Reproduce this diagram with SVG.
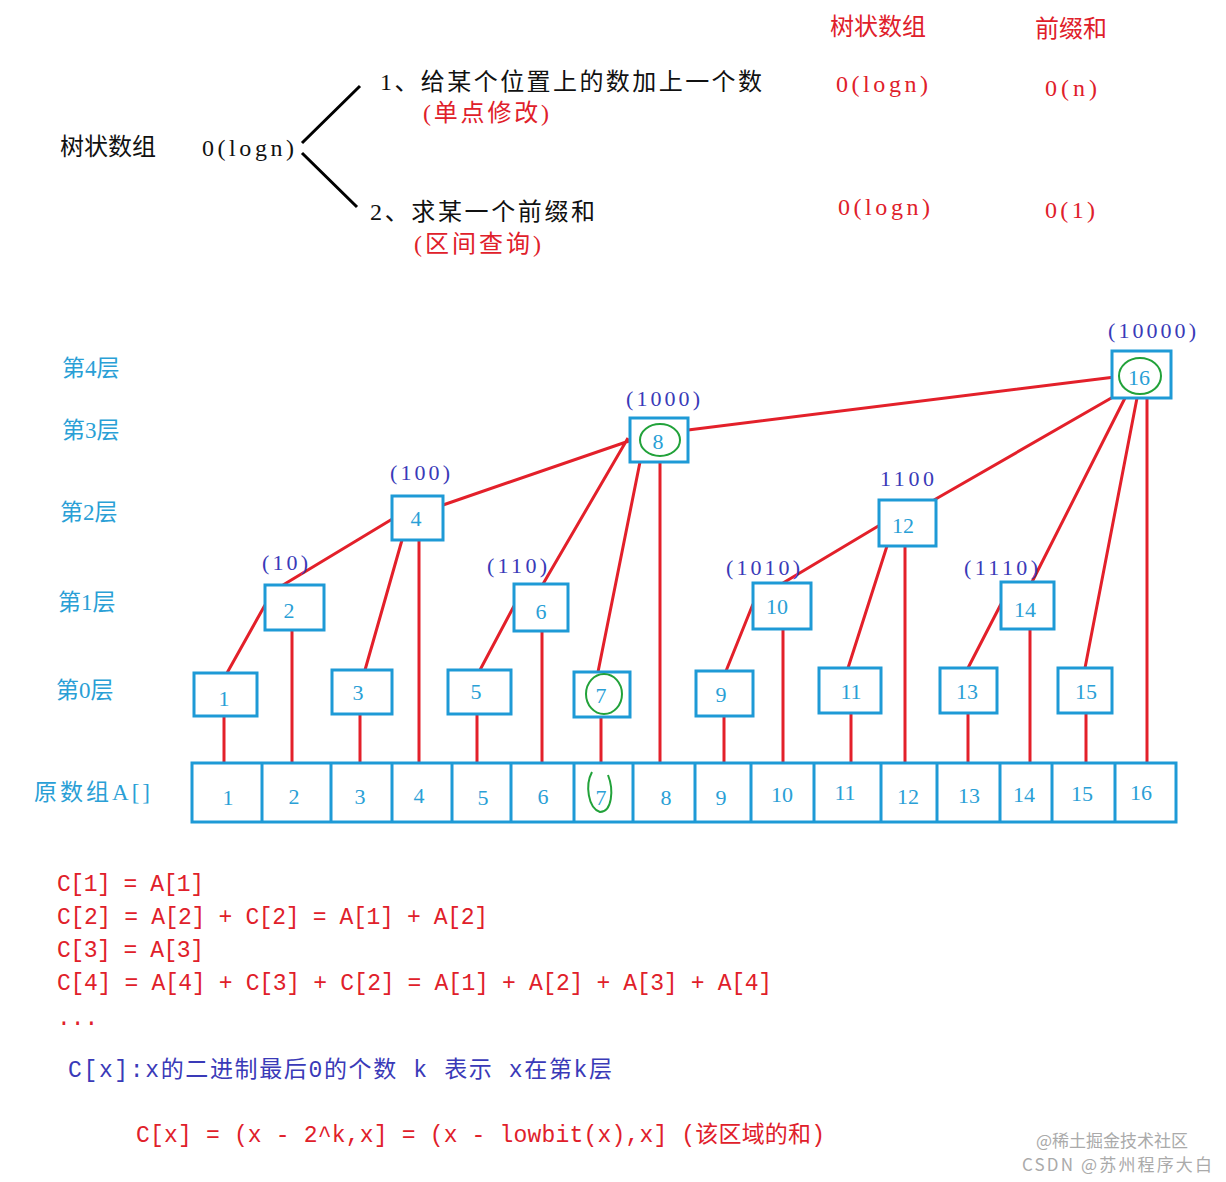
<svg xmlns="http://www.w3.org/2000/svg" width="1226" height="1182" viewBox="0 0 1226 1182">
<style>
text{font-family:"Liberation Serif","Noto Sans CJK SC",serif;}
.k{fill:#111;font-size:24px}
.r{fill:#e0202a;font-size:24px}
.b{fill:#3a3ab8;font-size:22px}
.t{fill:#2a9fd6;font-size:23px}
.n{fill:#2a9fd6;font-size:22px;text-anchor:middle}
.m{fill:#e0202a;font-size:23px;font-family:"Liberation Mono","Noto Sans CJK SC",monospace}
.box{fill:#fff;stroke:#1e9ad6;stroke-width:3}
.e{stroke:#e3202a;stroke-width:3;fill:none}
.g{fill:none;stroke:#22a23a;stroke-width:2}
</style>
<rect width="1226" height="1182" fill="#fff"/>
<g id="header">
<text class="r" x="830" y="35">树状数组</text>
<text class="r" x="1035" y="37">前缀和</text>
<text class="k" x="60" y="155">树状数组</text>
<text class="k" x="202" y="156" textLength="92">0(logn)</text>
<path d="M302 143 L360 86 M302 153 L357 207" stroke="#000" stroke-width="3" fill="none"/>
<text class="k" x="380" y="90" textLength="382">1、给某个位置上的数加上一个数</text>
<text class="r" x="423" y="121" textLength="126">(单点修改)</text>
<text class="k" x="370" y="220" textLength="225">2、求某一个前缀和</text>
<text class="r" x="414" y="252" textLength="127">(区间查询)</text>
<text class="r" x="836" y="92" textLength="92">0(logn)</text>
<text class="r" x="1045" y="96" textLength="52">0(n)</text>
<text class="r" x="838" y="215" textLength="92">0(logn)</text>
<text class="r" x="1045" y="218" textLength="50">0(1)</text>
</g>
<g id="layers">
<text class="t" x="62" y="376">第4层</text>
<text class="t" x="62" y="438">第3层</text>
<text class="t" x="60" y="520">第2层</text>
<text class="t" x="58" y="610">第1层</text>
<text class="t" x="56" y="698">第0层</text>
<text class="t" x="34" y="800" textLength="116">原数组A[]</text>
</g>
<g id="connectors">
<path class="e" d="M227 673 L265 605 M283 585 L394 518 M365 670 L402 540 M443 505 L632 440 M480 670 L514 606 M543 584 L628 438 M598 672 L640 462 M783 583 L880 525 M726 671 L753 604 M848 668 L887 546 M934 500 L1120 393 M968 668 L1001 604 M1032 582 L1125 398 M1085 668 L1137 398 M688 430 L1115 377"/>
<path class="e" d="M224 716V763 M292 630V763 M360 714V763 M419 540V763 M477 714V763 M542 631V763 M601 717V763 M660 462V763 M724 716V763 M783 629V763 M851 713V763 M905 546V763 M968 713V763 M1030 629V763 M1086 713V763 M1147 398V763"/>
</g>
<g id="array">
<rect class="box" x="192" y="763" width="984" height="59"/>
<path d="M262 763V822 M331 763V822 M392 763V822 M452 763V822 M511 763V822 M574 763V822 M633 763V822 M695 763V822 M751 763V822 M814 763V822 M881 763V822 M937 763V822 M1000 763V822 M1052 763V822 M1115 763V822" stroke="#1e9ad6" stroke-width="3"/>
<text class="n" x="228" y="805">1</text><text class="n" x="294" y="804">2</text><text class="n" x="360" y="804">3</text><text class="n" x="419" y="803">4</text><text class="n" x="483" y="805">5</text><text class="n" x="543" y="804">6</text><text class="n" x="601" y="805">7</text><text class="n" x="666" y="805">8</text><text class="n" x="721" y="805">9</text><text class="n" x="782" y="802">10</text><text class="n" x="845" y="800">11</text><text class="n" x="908" y="804">12</text><text class="n" x="969" y="803">13</text><text class="n" x="1024" y="802">14</text><text class="n" x="1082" y="801">15</text><text class="n" x="1141" y="800">16</text>
<path class="g" d="M592 772 C585 785 588 808 600 812 C612 812 614 790 608 775"/>
</g>
<g id="n1"><rect class="box" x="194" y="673" width="63" height="43"/><text class="n" x="224" y="706">1</text></g>
<g id="n2"><rect class="box" x="265" y="585" width="59" height="45"/><text class="n" x="289" y="618">2</text></g>
<g id="n3"><rect class="box" x="332" y="670" width="60" height="44"/><text class="n" x="358" y="700">3</text></g>
<g id="n4"><rect class="box" x="392" y="496" width="51" height="44"/><text class="n" x="416" y="526">4</text></g>
<g id="n5"><rect class="box" x="448" y="670" width="63" height="44"/><text class="n" x="476" y="699">5</text></g>
<g id="n6"><rect class="box" x="514" y="584" width="54" height="47"/><text class="n" x="541" y="619">6</text></g>
<g id="n7"><rect class="box" x="574" y="672" width="56" height="45"/><text class="n" x="601" y="703">7</text><ellipse class="g" cx="604" cy="694" rx="18" ry="20"/></g>
<g id="n8"><rect class="box" x="630" y="418" width="58" height="44"/><text class="n" x="658" y="449">8</text><ellipse class="g" cx="660" cy="440" rx="20" ry="16"/></g>
<g id="n9"><rect class="box" x="696" y="671" width="57" height="45"/><text class="n" x="721" y="702">9</text></g>
<g id="n10"><rect class="box" x="753" y="583" width="58" height="46"/><text class="n" x="777" y="614">10</text></g>
<g id="n11"><rect class="box" x="819" y="668" width="62" height="45"/><text class="n" x="851" y="699">11</text></g>
<g id="n12"><rect class="box" x="879" y="500" width="57" height="46"/><text class="n" x="903" y="533">12</text></g>
<g id="n13"><rect class="box" x="940" y="668" width="57" height="45"/><text class="n" x="967" y="699">13</text></g>
<g id="n14"><rect class="box" x="1001" y="582" width="53" height="47"/><text class="n" x="1025" y="617">14</text></g>
<g id="n15"><rect class="box" x="1058" y="668" width="54" height="45"/><text class="n" x="1086" y="699">15</text></g>
<g id="n16"><rect class="box" x="1112" y="351" width="59" height="47"/><text class="n" x="1139" y="385">16</text><ellipse class="g" cx="1140" cy="376" rx="21" ry="18"/></g>
<g id="binary">
<text class="b" x="262" y="570" textLength="46">(10)</text>
<text class="b" x="390" y="480" textLength="60">(100)</text>
<text class="b" x="487" y="573" textLength="60">(110)</text>
<text class="b" x="626" y="406" textLength="74">(1000)</text>
<text class="b" x="726" y="575" textLength="74">(1010)</text>
<text class="b" x="880" y="486" textLength="54">1100</text>
<text class="b" x="964" y="575" textLength="74">(1110)</text>
<text class="b" x="1108" y="338" textLength="88">(10000)</text>
</g>
<g id="formulas">
<text class="m" x="57" y="891" textLength="147">C[1] = A[1]</text>
<text class="m" x="57" y="924" textLength="431">C[2] = A[2] + C[2] = A[1] + A[2]</text>
<text class="m" x="57" y="957" textLength="147">C[3] = A[3]</text>
<text class="m" x="57" y="990" textLength="715">C[4] = A[4] + C[3] + C[2] = A[1] + A[2] + A[3] + A[4]</text>
<text class="m" x="57" y="1025">...</text>
<text class="m" x="68" y="1077" style="fill:#3a3ab8" textLength="544">C[x]:x的二进制最后0的个数 k 表示 x在第k层</text>
<text class="m" x="136" y="1142" textLength="689">C[x] = (x - 2^k,x] = (x - lowbit(x),x] (该区域的和)</text>
</g>
<g id="watermark" fill="#aaa" font-size="17">
<text x="1036" y="1147" style="font-family:'Noto Sans CJK SC',sans-serif">@稀土掘金技术社区</text>
<text x="1022" y="1171" style="font-family:'Noto Sans CJK SC',sans-serif" textLength="190">CSDN @苏州程序大白</text>
</g>
</svg>
